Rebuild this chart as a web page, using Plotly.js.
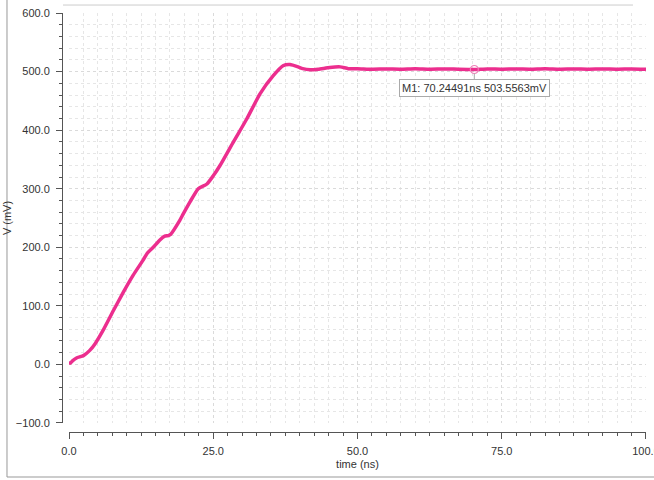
<!DOCTYPE html>
<html>
<head>
<meta charset="utf-8">
<script src="https://cdn.plot.ly/plotly-3.0.1.min.js"></script>
<style>html,body{margin:0;padding:0;background:#fff;}#chart{width:654px;height:480px;}</style>
</head>
<body>
<div id="chart"></div>
<script>
// time in ns
const timeNs = [0, 0.2, 0.6, 1.3, 2.5, 3.6, 4.5, 5.9, 7.7, 9.4, 11.1, 12.9, 13.5, 14.6, 15.8, 16.6, 17.2, 17.6, 19.2, 19.8, 21.0, 22.4, 23.9, 25.0, 26.2, 28.5, 30.8, 33.1, 35.4, 37.1, 38.3, 39.7, 40.5, 41.8, 43.2, 45.2, 47.0, 48.4, 50.0, 52.5, 55.0, 57.5, 60.0, 62.5, 65.0, 67.5, 70.2, 72.5, 75.0, 77.5, 80.0, 82.5, 85.0, 87.5, 90.0, 92.5, 95.0, 97.5, 100.0];
// voltage in mV
const voltageMv = [5, 2, 6, 11, 15, 24, 35, 58, 92, 123, 152, 179, 189, 200, 213, 219, 220, 222, 246, 257, 278, 300, 308, 322, 340, 380, 419, 462, 493, 510, 512, 508, 505, 503, 504, 507, 508, 505, 505, 504, 504.5, 504, 505, 504, 504.5, 504, 503.6, 504.5, 504, 504.5, 504, 505, 504, 504.5, 504, 504.5, 504, 504.5, 504];
// marker M1
const markerT = [70.24491];
const markerV = [503.5563];
const markerLabel = "M1: 70.24491ns 503.5563mV";
// axis tick settings
const xTickVals = [0, 25, 50, 75, 100];
const yTickVals = [-100, 0, 100, 200, 300, 400, 500, 600];

const pink = 'rgb(236,46,142)';
const font = {family: 'Liberation Sans, Arial, sans-serif', size: 11, color: '#333'};

const traces = [
  {x: timeNs, y: voltageMv, type: 'scatter', mode: 'lines', line: {color: pink, width: 3.5, shape: 'spline', smoothing: 0.5}, hoverinfo: 'skip', showlegend: false},
  {x: markerT, y: markerV, type: 'scatter', mode: 'markers', marker: {symbol: 'circle-open', size: 8, color: 'rgb(240,130,185)', line: {width: 1.2}}, showlegend: false}
];

const layout = {
  width: 654, height: 480,
  margin: {l: 62, r: 8, t: 13, b: 48},
  paper_bgcolor: '#fff', plot_bgcolor: '#fff',
  font: font,
  showlegend: false,
  xaxis: {
    domain: [0.012, 1], anchor: 'free', position: 0,
    range: [0, 100], tickvals: xTickVals, tickformat: '.1f',
    showline: true, linecolor: '#555', linewidth: 1,
    ticks: 'outside', ticklen: 6, tickcolor: '#555',
    ticklabeloverflow: 'allow', ticklabelstandoff: 3,
    showgrid: true, gridcolor: '#dadada', griddash: 'dot', gridwidth: 1,
    zeroline: false,
    minor: {dtick: 2.5, tick0: 0, ticks: 'outside', ticklen: 3, tickcolor: '#555', showgrid: true, gridcolor: '#e6e6e6', griddash: 'dot'},
    title: {text: 'time (ns)', font: {family: font.family, size: 11, color: '#333'}, standoff: 4},
    tickfont: font
  },
  yaxis: {
    domain: [0.0215, 1], anchor: 'free', position: 0,
    range: [-100, 600], tickvals: yTickVals, tickformat: '.1f',
    showline: true, linecolor: '#555', linewidth: 1,
    ticks: 'outside', ticklen: 6, tickcolor: '#555',
    ticklabelstandoff: 4,
    showgrid: true, gridcolor: '#dadada', griddash: 'dot', gridwidth: 1,
    zeroline: false,
    minor: {dtick: 20, tick0: 0, ticks: 'outside', ticklen: 3, tickcolor: '#555', showgrid: true, gridcolor: '#e6e6e6', griddash: 'dot'},
    title: {text: 'V (mV)', font: {family: font.family, size: 11, color: '#333'}, standoff: 0},
    tickfont: font
  },
  annotations: [
    {x: markerT[0], y: markerV[0], xref: 'x', yref: 'y', text: markerLabel,
     showarrow: true, arrowhead: 0, arrowcolor: '#aaa', arrowwidth: 1, ax: 0, ay: 19, standoff: 4,
     font: {family: font.family, size: 11, color: '#333'}, bgcolor: '#fff', bordercolor: '#aaa', borderwidth: 1, borderpad: 2}
  ],
  shapes: [
    {type: 'line', xref: 'paper', yref: 'paper', x0: -0.0942, x1: -0.0942, y0: -0.1074, y1: 1.031, line: {color: '#999', width: 1}},
    {type: 'line', xref: 'paper', yref: 'paper', x0: -0.0942, x1: 1.02, y0: -0.1074, y1: -0.1074, line: {color: '#999', width: 1}},
    {type: 'line', xref: 'paper', yref: 'paper', x0: 0.0017, x1: 0.9777, y0: 1.019, y1: 1.019, line: {color: '#ccc', width: 1}}
  ]
};

Plotly.newPlot('chart', traces, layout, {displayModeBar: false, staticPlot: true});
</script>
</body>
</html>
